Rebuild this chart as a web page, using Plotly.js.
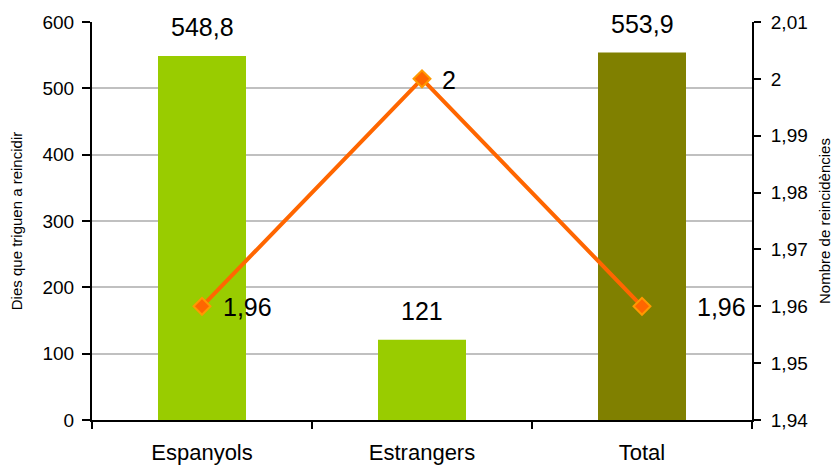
<!DOCTYPE html>
<html>
<head>
<meta charset="utf-8">
<script src="https://cdn.plot.ly/plotly-3.0.1.min.js"></script>
<style>
html,body{margin:0;padding:0;background:#fff;}
#chart{width:840px;height:471px;}
</style>
</head>
<body>
<div id="chart"></div>
<script>
const categories = ['Espanyols', 'Estrangers', 'Total'];
const diesValues = [548.8, 121, 553.9];
const diesLabels = ['548,8', '121', '553,9'];
const reincValues = [1.96, 2, 1.96];
const reincLabels = ['1,96', '2', '1,96'];
const barColors = ['#99CC00', '#99CC00', '#808000'];

const FONT = '"Liberation Sans", Arial, sans-serif';

const barTrace = {
  type: 'bar',
  x: categories,
  y: diesValues,
  marker: {color: barColors},
  width: 0.4,
  hoverinfo: 'none',
  showlegend: false
};

const lineTrace = {
  type: 'scatter',
  mode: 'lines+markers',
  x: categories,
  y: reincValues,
  yaxis: 'y2',
  line: {color: '#FF6600', width: 4},
  marker: {symbol: 'diamond', size: 13, color: '#FF6600', line: {color: '#FF9900', width: 2}},
  hoverinfo: 'none',
  showlegend: false
};

const annotations = [];
categories.forEach((c, i) => {
  annotations.push({
    x: c, y: diesValues[i], xref: 'x', yref: 'y',
    text: diesLabels[i], showarrow: false,
    yanchor: 'bottom', yshift: 13,
    font: {family: FONT, size: 25, color: '#000'}
  });
});
const lineShifts = [19, 18, 53];
categories.forEach((c, i) => {
  annotations.push({
    x: c, y: reincValues[i], xref: 'x', yref: 'y2',
    text: reincLabels[i], showarrow: false,
    xanchor: 'left', xshift: lineShifts[i], yshift: -1,
    font: {family: FONT, size: 25, color: '#000'}
  });
});

const layout = {
  width: 840, height: 471,
  margin: {l: 92, r: 88, t: 22, b: 51, pad: 0},
  paper_bgcolor: '#fff', plot_bgcolor: '#fff',
  separators: ',.',
  font: {family: FONT, color: '#000'},
  bargap: 0.6,
  xaxis: {
    type: 'category',
    showline: true, linecolor: '#000', linewidth: 2,
    ticks: 'outside', ticklen: 7, tickwidth: 2, tickcolor: '#000',
    tickson: 'boundaries',
    ticklabelstandoff: 12,
    tickfont: {family: FONT, size: 22, color: '#000'},
    showgrid: false, zeroline: false,
    fixedrange: true
  },
  yaxis: {
    range: [0, 600], tickmode: 'linear', tick0: 0, dtick: 100,
    showline: true, linecolor: '#000', linewidth: 2,
    ticks: 'outside', ticklen: 8, tickwidth: 2, tickcolor: '#000',
    ticklabelstandoff: 4,
    tickfont: {family: FONT, size: 19, color: '#000'},
    showgrid: true, gridcolor: '#C0C0C0', gridwidth: 2,
    zeroline: false,
    title: {text: 'Dies que triguen a reincidir', font: {family: FONT, size: 15, color: '#000'}, standoff: 16},
    automargin: false
  },
  yaxis2: {
    overlaying: 'y', side: 'right',
    range: [1.94, 2.01], tickmode: 'linear', tick0: 1.94, dtick: 0.01,
    showline: true, linecolor: '#000', linewidth: 2,
    ticks: 'outside', ticklen: 7, tickwidth: 2, tickcolor: '#000',
    ticklabelstandoff: 6,
    tickfont: {family: FONT, size: 19, color: '#000'},
    showgrid: false, zeroline: false,
    title: {text: 'Nombre de reincidències', font: {family: FONT, size: 15, color: '#000'}, standoff: 12},
    automargin: false
  },
  annotations: annotations
};

Plotly.newPlot('chart', [barTrace, lineTrace], layout, {displayModeBar: false, staticPlot: true});
</script>
</body>
</html>
